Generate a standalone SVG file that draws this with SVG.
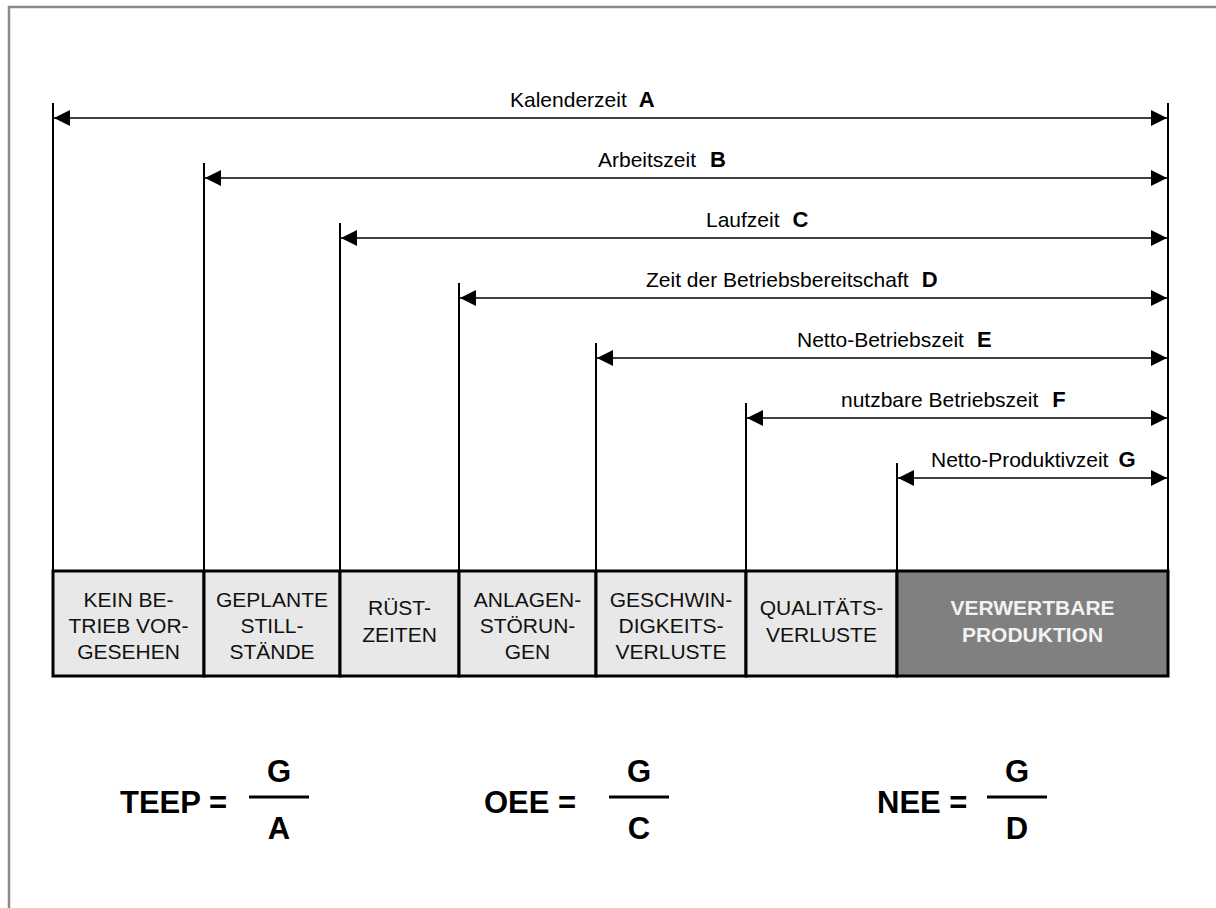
<svg xmlns="http://www.w3.org/2000/svg" width="1216" height="908" viewBox="0 0 1216 908">
  <defs>
    <style>
      .frame { fill: none; stroke: #8a8a8a; stroke-width: 2.5; }
      .tick { stroke: #000; stroke-width: 2; fill: none; }
      .span { stroke: #000; stroke-width: 1.6; fill: none; marker-start: url(#head-l); marker-end: url(#head-r); }
      .lbl { font-family: "Liberation Sans", Arial, sans-serif; font-size: 21px; fill: #000; }
      .key { font-weight: bold; font-size: 22px; }
      .box { fill: #e8e8e8; stroke: #000; stroke-width: 3; }
      .box-dark { fill: #808080; stroke: #000; stroke-width: 3; }
      .btxt { font-family: "Liberation Sans", Arial, sans-serif; font-size: 21px; fill: #111; text-anchor: middle; }
      .btxt-dark { font-family: "Liberation Sans", Arial, sans-serif; font-size: 21px; font-weight: bold; fill: #f2f2f2; text-anchor: middle; }
      .ftxt { font-family: "Liberation Sans", Arial, sans-serif; font-size: 31px; font-weight: bold; fill: #000; }
      .fbar { stroke: #000; stroke-width: 3; }
    </style>
    <marker id="head-r" viewBox="0 0 16 16" refX="16" refY="8" markerWidth="16" markerHeight="16" markerUnits="userSpaceOnUse" orient="auto">
      <path d="M0,0 L16,8 L0,16 Z" fill="#000"/>
    </marker>
    <marker id="head-l" viewBox="0 0 16 16" refX="0" refY="8" markerWidth="16" markerHeight="16" markerUnits="userSpaceOnUse" orient="auto">
      <path d="M16,0 L0,8 L16,16 Z" fill="#000"/>
    </marker>
  </defs>

  <rect width="1216" height="908" fill="#fff"/>
  <!-- outer frame, open to the right and bottom -->
  <path class="frame" d="M9,908 V7 H1216"/>

  <!-- time spans: vertical limits and double-headed arrows -->
  <g id="connectors">
    <line class="tick" x1="53" y1="103" x2="53" y2="571"/>
    <line class="tick" x1="204" y1="163" x2="204" y2="571"/>
    <line class="tick" x1="340" y1="223" x2="340" y2="571"/>
    <line class="tick" x1="459" y1="283" x2="459" y2="571"/>
    <line class="tick" x1="596" y1="343" x2="596" y2="571"/>
    <line class="tick" x1="746" y1="403" x2="746" y2="571"/>
    <line class="tick" x1="897" y1="463" x2="897" y2="571"/>
    <line class="tick" x1="1168" y1="103" x2="1168" y2="571"/>

    <line class="span" x1="54" y1="118" x2="1167" y2="118"/>
    <line class="span" x1="205" y1="178" x2="1167" y2="178"/>
    <line class="span" x1="341" y1="238" x2="1167" y2="238"/>
    <line class="span" x1="460" y1="298" x2="1167" y2="298"/>
    <line class="span" x1="597" y1="358" x2="1167" y2="358"/>
    <line class="span" x1="747" y1="418" x2="1167" y2="418"/>
    <line class="span" x1="898" y1="478" x2="1167" y2="478"/>
  </g>

  <!-- span labels -->
  <g id="span-labels" class="lbl">
    <text x="510" y="107">Kalenderzeit<tspan class="key" dx="12">A</tspan></text>
    <text x="598" y="167">Arbeitszeit<tspan class="key" dx="14">B</tspan></text>
    <text x="706" y="227">Laufzeit<tspan class="key" dx="13">C</tspan></text>
    <text x="646" y="287">Zeit der Betriebsbereitschaft<tspan class="key" dx="13">D</tspan></text>
    <text x="797" y="347">Netto-Betriebszeit<tspan class="key" dx="13">E</tspan></text>
    <text x="841" y="407">nutzbare Betriebszeit<tspan class="key" dx="14">F</tspan></text>
    <text x="931" y="467">Netto-Produktivzeit<tspan class="key" dx="10">G</tspan></text>
  </g>

  <!-- loss categories -->
  <g id="kein-betrieb">
    <rect class="box" x="53" y="571" width="151" height="105"/>
    <text class="btxt" x="128.5" y="607">KEIN BE-</text>
    <text class="btxt" x="128.5" y="633">TRIEB VOR-</text>
    <text class="btxt" x="128.5" y="659">GESEHEN</text>
  </g>
  <g id="geplante-stillstaende">
    <rect class="box" x="204" y="571" width="136" height="105"/>
    <text class="btxt" x="272" y="607">GEPLANTE</text>
    <text class="btxt" x="272" y="633">STILL-</text>
    <text class="btxt" x="272" y="659">STÄNDE</text>
  </g>
  <g id="ruestzeiten">
    <rect class="box" x="340" y="571" width="119" height="105"/>
    <text class="btxt" x="399.5" y="615">RÜST-</text>
    <text class="btxt" x="399.5" y="642">ZEITEN</text>
  </g>
  <g id="anlagenstoerungen">
    <rect class="box" x="459" y="571" width="137" height="105"/>
    <text class="btxt" x="527.5" y="607">ANLAGEN-</text>
    <text class="btxt" x="527.5" y="633">STÖRUN-</text>
    <text class="btxt" x="527.5" y="659">GEN</text>
  </g>
  <g id="geschwindigkeitsverluste">
    <rect class="box" x="596" y="571" width="150" height="105"/>
    <text class="btxt" x="671" y="607">GESCHWIN-</text>
    <text class="btxt" x="671" y="633">DIGKEITS-</text>
    <text class="btxt" x="671" y="659">VERLUSTE</text>
  </g>
  <g id="qualitaetsverluste">
    <rect class="box" x="746" y="571" width="151" height="105"/>
    <text class="btxt" x="821.5" y="615">QUALITÄTS-</text>
    <text class="btxt" x="821.5" y="642">VERLUSTE</text>
  </g>
  <g id="verwertbare-produktion">
    <rect class="box-dark" x="897" y="571" width="271" height="105"/>
    <text class="btxt-dark" x="1032.5" y="615">VERWERTBARE</text>
    <text class="btxt-dark" x="1032.5" y="642">PRODUKTION</text>
  </g>

  <!-- key figures -->
  <g id="teep">
    <text class="ftxt" x="120" y="813">TEEP =</text>
    <line class="fbar" x1="249" y1="797" x2="309" y2="797"/>
    <text class="ftxt" x="279" y="782" text-anchor="middle">G</text>
    <text class="ftxt" x="279" y="839" text-anchor="middle">A</text>
  </g>
  <g id="oee">
    <text class="ftxt" x="484" y="813">OEE =</text>
    <line class="fbar" x1="609" y1="797" x2="669" y2="797"/>
    <text class="ftxt" x="639" y="782" text-anchor="middle">G</text>
    <text class="ftxt" x="639" y="839" text-anchor="middle">C</text>
  </g>
  <g id="nee">
    <text class="ftxt" x="877" y="813">NEE =</text>
    <line class="fbar" x1="987" y1="797" x2="1047" y2="797"/>
    <text class="ftxt" x="1017" y="782" text-anchor="middle">G</text>
    <text class="ftxt" x="1017" y="839" text-anchor="middle">D</text>
  </g>
</svg>
